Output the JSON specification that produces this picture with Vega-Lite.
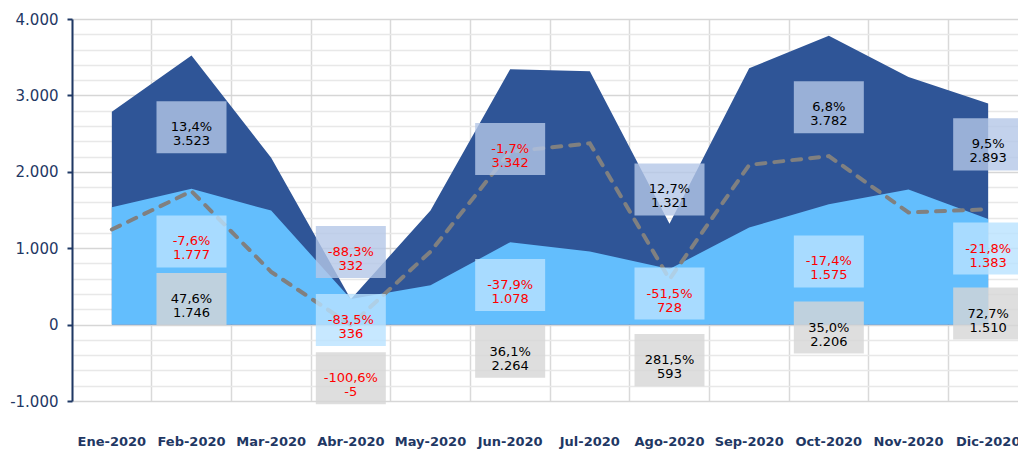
{
  "$schema": "https://vega.github.io/schema/vega-lite/v6.json",
  "autosize": {"type": "none"},
  "padding": {"left": 72, "top": 19, "right": 0, "bottom": 51},
  "width": 946,
  "height": 382,
  "config": {
    "view": {"stroke": null},
    "font": "DejaVu Sans"
  },
  "datasets": {
    "main": [
      {"month": "Ene-2020", "dark": 2785, "light": 1535, "line": 1245},
      {"month": "Feb-2020", "dark": 3523, "light": 1777, "line": 1746},
      {"month": "Mar-2020", "dark": 2185, "light": 1492, "line": 690},
      {"month": "Abr-2020", "dark": 332, "light": 336, "line": -5},
      {"month": "May-2020", "dark": 1494, "light": 515, "line": 955},
      {"month": "Jun-2020", "dark": 3342, "light": 1078, "line": 2264},
      {"month": "Jul-2020", "dark": 3316, "light": 957, "line": 2372},
      {"month": "Ago-2020", "dark": 1321, "light": 728, "line": 593},
      {"month": "Sep-2020", "dark": 3355, "light": 1271, "line": 2090},
      {"month": "Oct-2020", "dark": 3782, "light": 1575, "line": 2206},
      {"month": "Nov-2020", "dark": 3240, "light": 1769, "line": 1468},
      {"month": "Dic-2020", "dark": 2893, "light": 1383, "line": 1510}
    ],
    "labels": [
      {"month": "Feb-2020", "series": "dark", "pct": 13.4, "value": 3523, "pos": 2582},
      {"month": "Feb-2020", "series": "light", "pct": -7.6, "value": 1777, "pos": 1088},
      {"month": "Feb-2020", "series": "gray", "pct": 47.6, "value": 1746, "pos": 334},
      {"month": "Abr-2020", "series": "dark", "pct": -88.3, "value": 332, "pos": 950},
      {"month": "Abr-2020", "series": "light", "pct": -83.5, "value": 336, "pos": 59},
      {"month": "Abr-2020", "series": "gray", "pct": -100.6, "value": -5, "pos": -701},
      {"month": "Jun-2020", "series": "dark", "pct": -1.7, "value": 3342, "pos": 2300},
      {"month": "Jun-2020", "series": "light", "pct": -37.9, "value": 1078, "pos": 518},
      {"month": "Jun-2020", "series": "gray", "pct": 36.1, "value": 2264, "pos": -354},
      {"month": "Ago-2020", "series": "dark", "pct": 12.7, "value": 1321, "pos": 1769},
      {"month": "Ago-2020", "series": "light", "pct": -51.5, "value": 728, "pos": 406},
      {"month": "Ago-2020", "series": "gray", "pct": 281.5, "value": 593, "pos": -465},
      {"month": "Oct-2020", "series": "dark", "pct": 6.8, "value": 3782, "pos": 2844},
      {"month": "Oct-2020", "series": "light", "pct": -17.4, "value": 1575, "pos": 826},
      {"month": "Oct-2020", "series": "gray", "pct": 35.0, "value": 2206, "pos": -39},
      {"month": "Dic-2020", "series": "dark", "pct": 9.5, "value": 2893, "pos": 2359},
      {"month": "Dic-2020", "series": "light", "pct": -21.8, "value": 1383, "pos": 996},
      {"month": "Dic-2020", "series": "gray", "pct": 72.7, "value": 1510, "pos": 144}
    ]
  },
  "resolve": {"axis": {"x": "independent"}},
  "layer": [
    {
      "data": {"name": "main"},
      "mark": {"type": "area", "color": "#2f5597", "opacity": 1},
      "encoding": {
        "x": {
          "field": "month", "type": "ordinal", "bandPosition": 0.5,
          "scale": {"type": "band", "range": [0, 956], "paddingInner": 0, "paddingOuter": 0,
            "domain": ["Ene-2020","Feb-2020","Mar-2020","Abr-2020","May-2020","Jun-2020","Jul-2020","Ago-2020","Sep-2020","Oct-2020","Nov-2020","Dic-2020"]},
          "axis": {"title": null, "orient": "bottom", "bandPosition": 0, "grid": true, "gridColor": "#d9d9d9", "gridWidth": 1.5, "labels": false, "ticks": false, "domain": false}
        },
        "y": {
          "field": "dark", "type": "quantitative", "title": null,
          "scale": {"domain": [-1000, 4000], "nice": false, "zero": false},
          "axis": {
            "title": null,
            "values": [-1000,-800,-600,-400,-200,0,200,400,600,800,1000,1200,1400,1600,1800,2000,2200,2400,2600,2800,3000,3200,3400,3600,3800,4000],
            "tickCount": 40,
            "labelExpr": "datum.value % 1000 === 0 ? replace(replace(format(datum.value, ',.0f'), ',', '.'), '−', '-') : ''",
            "labelOverlap": false,
            "labelFontSize": 15,
            "labelColor": "#1f3864",
            "labelPadding": 9,
            "domainColor": "#1f3864",
            "domainWidth": 2,
            "tickColor": "#1f3864",
            "tickWidth": 2,
            "tickSize": 5,
            "tickOpacity": {"condition": {"test": "datum.value % 1000 === 0", "value": 1}, "value": 0},
            "grid": true,
            "gridWidth": 1.5,
            "gridColor": {"condition": {"test": "datum.value % 1000 === 0", "value": "#d6d6d6"}, "value": "#e8e8e8"}
          }
        }
      }
    },
    {
      "data": {"name": "main"},
      "mark": {"type": "area", "color": "#63befd", "opacity": 1},
      "encoding": {
        "x": {
          "field": "month", "type": "ordinal", "bandPosition": 0.5,
          "axis": {"title": null, "orient": "bottom", "grid": false, "ticks": false, "tickSize": 0, "domain": false, "labelAngle": 0,
            "labelFontSize": 13, "labelFontWeight": "bold", "labelColor": "#1f3864", "labelPadding": 34}
        },
        "y": {"field": "light", "type": "quantitative", "title": null}
      }
    },
    {
      "mark": {"type": "rule", "color": "#1f4e8c", "strokeWidth": 2.5},
      "encoding": {"y": {"datum": 0}}
    },
    {
      "data": {"name": "main"},
      "mark": {"type": "line", "color": "#808080", "strokeWidth": 4, "strokeDash": [9, 9], "strokeCap": "round"},
      "encoding": {
        "x": {"field": "month", "type": "ordinal", "bandPosition": 0.5, "axis": null},
        "y": {"field": "line", "type": "quantitative", "title": null}
      }
    },
    {
      "data": {"name": "labels"},
      "mark": {"type": "point", "filled": true, "shape": "M-1,-0.743L1,-0.743L1,0.743L-1,0.743Z", "size": 4900, "opacity": 0.8, "strokeWidth": 0},
      "encoding": {
        "x": {"field": "month", "type": "ordinal", "bandPosition": 0.5, "axis": null},
        "y": {"field": "pos", "type": "quantitative", "title": null},
        "fill": {"field": "series", "type": "nominal", "legend": null,
          "scale": {"domain": ["dark", "light", "gray"], "range": ["#b4c7e7", "#b9e2ff", "#d6d6d6"]}}
      }
    },
    {
      "data": {"name": "labels"},
      "transform": [
        {"calculate": "replace(replace(format(datum.pct, '.1f'), '.', ','), '−', '-') + '%\\n' + replace(replace(format(datum.value, ','), ',', '.'), '−', '-')", "as": "lbl"}
      ],
      "mark": {"type": "text", "lineBreak": "\n", "fontSize": 13, "lineHeight": 14, "align": "center", "baseline": "middle"},
      "encoding": {
        "x": {"field": "month", "type": "ordinal", "bandPosition": 0.5, "axis": null},
        "y": {"field": "pos", "type": "quantitative", "title": null},
        "text": {"field": "lbl"},
        "color": {"condition": {"test": "datum.pct < 0", "value": "#ff0000"}, "value": "#000000"}
      }
    }
  ]
}
